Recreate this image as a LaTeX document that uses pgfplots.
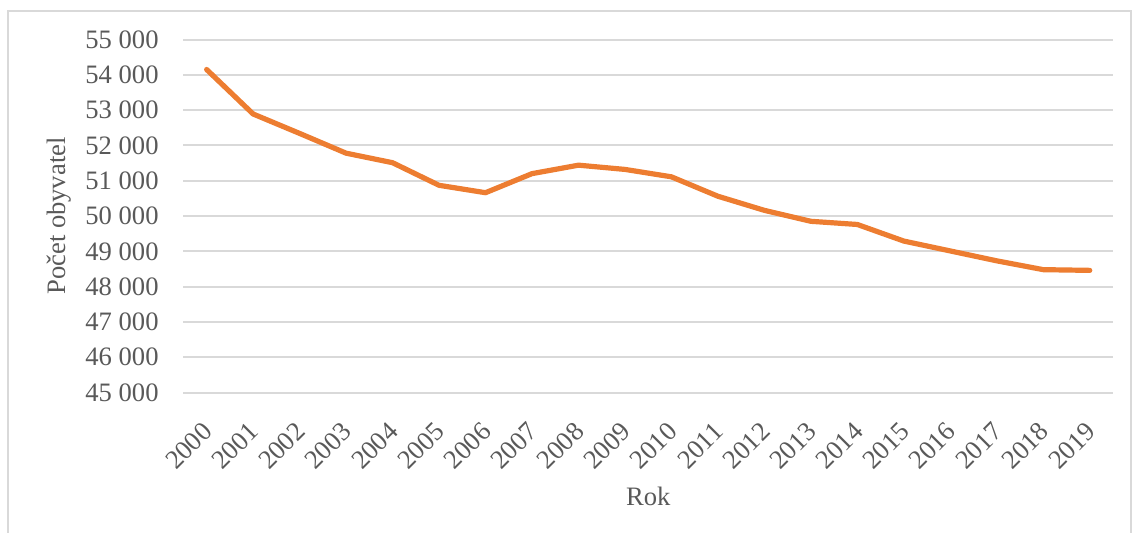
\documentclass[border=0pt]{standalone}
\usepackage{fontspec}
\setmainfont{Liberation Serif}
\usepackage{pgfplots}
\pgfplotsset{compat=1.18}
\definecolor{lineorange}{HTML}{ED7D31}
\definecolor{txtgray}{HTML}{595959}
\definecolor{gridgray}{HTML}{D9D9D9}
\begin{document}
\begin{tikzpicture}
\useasboundingbox (-91.7pt,-69.75pt) rectangle (474.3pt,196.25pt);
\draw[gridgray, line width=1pt] (-87.7pt,-75pt) -- (-87.7pt,190.75pt) -- (473.8pt,190.75pt) -- (473.8pt,-75pt);
\begin{axis}[
  at={(0pt,0pt)}, anchor=south west,
  scale only axis, width=464.8pt, height=176.5pt,
  xmin=-0.5, xmax=19.5, ymin=45000, ymax=55000,
  scaled y ticks=false,
  xtick={0,1,2,3,4,5,6,7,8,9,10,11,12,13,14,15,16,17,18,19},
  xticklabels={2000,2001,2002,2003,2004,2005,2006,2007,2008,2009,2010,2011,2012,2013,2014,2015,2016,2017,2018,2019},
  ytick={45000,46000,47000,48000,49000,50000,51000,52000,53000,54000,55000},
  yticklabels={45 000,46 000,47 000,48 000,49 000,50 000,51 000,52 000,53 000,54 000,55 000},
  ymajorgrids, major grid style={gridgray, line width=1pt},
  axis line style={draw=none}, major tick length=0pt,
  tick label style={font=\fontsize{13.3}{15}\selectfont, text=txtgray},
  yticklabel style={anchor=east, inner sep=0pt, xshift=-12.2pt},
  xticklabel style={xshift=0.6pt, yshift=-17.2pt, rotate=45, anchor=east, inner sep=0pt},
  xlabel={Rok}, ylabel={Počet obyvatel},
  label style={font=\fontsize{13.3}{15}\selectfont, text=txtgray},
  xlabel style={at={(axis description cs:0.5,-0.2946)}, anchor=center},
  ylabel style={at={(axis description cs:-0.1334,0.5)}, anchor=center},
  clip=false,
]
\addplot[color=lineorange, line width=2.6pt, line join=round, line cap=round] coordinates {
(0,54150) (1,52890) (2,52340) (3,51780) (4,51510) (5,50870) (6,50660) (7,51200) (8,51440) (9,51320)
(10,51110) (11,50560) (12,50160) (13,49850) (14,49760) (15,49290) (16,49010) (17,48730) (18,48480) (19,48460)
};
\end{axis}
\end{tikzpicture}
\end{document}
